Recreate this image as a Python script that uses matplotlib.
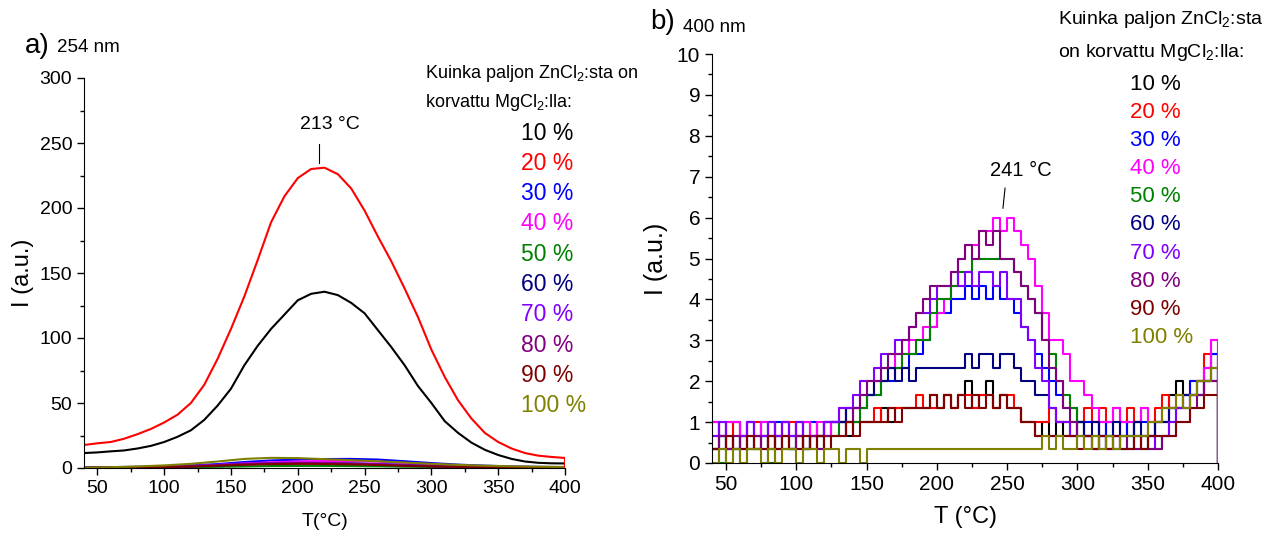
import numpy as np
import matplotlib
matplotlib.use("Agg")
import matplotlib.pyplot as plt
from matplotlib.ticker import MultipleLocator

plt.rcParams['font.family'] = ['Liberation Sans', 'DejaVu Sans']
plt.rcParams['mathtext.default'] = 'regular'

# sarjat: kuinka paljon ZnCl2 korvattu MgCl2:lla
labels = ['10 %', '20 %', '30 %', '40 %', '50 %', '60 %', '70 %', '80 %', '90 %', '100 %']
colors = ['#000000', '#FF0000', '#0000FF', '#FF00FF', '#008000',
          '#000080', '#8000FF', '#800080', '#800000', '#808000']

# --- a) 254 nm ---
T_a = [40, 50, 60, 70, 80, 90, 100, 110, 120, 130, 140, 150, 160, 170, 180, 190,
       200, 210, 220, 230, 240, 250, 260, 270, 280, 290, 300, 310, 320, 330, 340,
       350, 360, 370, 380, 390, 400, 400]
I_a_10 = [11.5, 12, 12.8, 13.5, 15, 17, 20, 24, 29, 37, 48, 61, 79, 94, 107, 118,
          129, 134, 135.6, 133, 127, 119, 106, 93, 79, 63, 50, 36, 27, 19.5, 14,
          10, 7, 5, 4, 3.6, 3.5, 0]
I_a_20 = [17.7, 19, 20, 22.5, 26, 30, 35, 41, 50, 64, 84, 107, 132, 160, 189, 209,
          223, 230, 231, 226, 215, 198, 178, 159, 138, 116, 91, 70, 52, 38, 27,
          20, 15, 11.5, 9.5, 8.5, 7.7, 0]

T_a_small = [40, 60, 80, 100, 120, 140, 160, 180, 200, 220, 240, 260, 280, 300,
             320, 340, 360, 380, 400]
I_a_30 = [0.5, 0.7, 0.9, 1.3, 2.0, 3.0, 4.6, 5.8, 6.4, 6.9, 7.0, 6.5, 5.2, 3.8, 2.6, 1.8, 1.2, 0.9, 0.7]
I_a_40 = [0.4, 0.5, 0.7, 1.0, 1.5, 2.4, 3.5, 4.4, 5.0, 5.4, 5.4, 4.8, 3.8, 2.8, 1.9, 1.3, 0.9, 0.7, 0.6]
I_a_50 = [0.1, 0.2, 0.3, 0.4, 0.6, 0.9, 1.2, 1.5, 1.6, 1.6, 1.5, 1.3, 1.0, 0.8, 0.6, 0.4, 0.3, 0.2, 0.2]
I_a_60 = [0.3, 0.4, 0.6, 0.9, 1.4, 2.0, 2.8, 3.3, 3.6, 3.7, 3.5, 3.0, 2.3, 1.6, 1.1, 0.7, 0.5, 0.4, 0.3]
I_a_70 = [0.2, 0.3, 0.5, 0.9, 1.5, 2.3, 3.2, 3.8, 4.0, 3.9, 3.5, 2.9, 2.2, 1.5, 1.0, 0.7, 0.5, 0.4, 0.3]
I_a_80 = [0.2, 0.3, 0.5, 0.8, 1.3, 2.2, 3.0, 3.6, 3.8, 3.7, 3.3, 2.7, 2.0, 1.4, 0.9, 0.6, 0.4, 0.3, 0.3]
I_a_90 = [0.1, 0.2, 0.4, 0.7, 1.1, 1.8, 2.5, 3.0, 3.2, 3.1, 2.8, 2.3, 1.7, 1.2, 0.8, 0.5, 0.4, 0.3, 0.2]
I_a_100 = [0.3, 0.6, 1.2, 2.0, 3.2, 5.0, 7.0, 7.8, 7.6, 6.8, 6.0, 5.2, 4.2, 3.2, 2.4, 1.8, 1.3, 1.0, 0.8]

# --- b) 400 nm, detektorin porras = 1/3 yksikkoa, arvot porraslukuina ---
T_b = list(range(40, 401, 5))
n_b_10 = [1, 2, 1, 2, 1, 2, 1, 2, 1, 2, 2, 1, 2, 1, 2, 2, 2, 3,
          3, 2, 3, 3, 3, 3, 4, 3, 4, 4, 4, 4, 4, 5, 4, 5, 4, 5, 6, 4, 5, 6, 4, 5, 4, 4,
          3, 3, 2, 3, 2, 3, 2, 2, 3, 2, 2, 3, 2, 2, 2, 3, 2, 2, 2, 3, 4, 5, 6, 5, 5, 6, 6, 8, 0]
n_b_20 = [2, 3, 2, 3, 2, 3, 3, 2, 3, 2, 3, 3, 2, 3, 3, 2, 3, 3,
          3, 3, 3, 3, 3, 4, 3, 4, 4, 4, 4, 5, 4, 4, 4, 5, 4, 5, 5, 4, 5, 5, 4, 5, 5, 4,
          3, 3, 3, 3, 4, 3, 3, 3, 3, 4, 3, 4, 3, 4, 3, 4, 3, 4, 3, 4, 5, 4, 5, 5, 6, 6, 8, 9, 0]
n_b_30 = [3, 2, 3, 3, 2, 3, 2, 3, 2, 3, 3, 2, 3, 2, 3, 2, 3, 3,
          3, 4, 4, 4, 5, 5, 6, 6, 7, 7, 8, 8, 9, 10, 11, 11, 12, 12, 13, 12, 13, 12, 13, 12, 12, 11,
          10, 9, 8, 7, 6, 5, 4, 4, 3, 3, 3, 2, 3, 2, 3, 2, 3, 3, 2, 3, 3, 4, 4, 5, 6, 6, 7, 8, 0]
n_b_40 = [3, 2, 3, 3, 2, 3, 2, 3, 3, 2, 3, 2, 3, 3, 2, 3, 2, 3,
          4, 3, 4, 4, 5, 6, 7, 7, 8, 8, 9, 9, 10, 10, 11, 12, 13, 15, 16, 16, 17, 17, 18, 17, 18, 17,
          16, 15, 13, 11, 9, 9, 8, 6, 6, 5, 4, 3, 3, 4, 3, 3, 3, 4, 3, 3, 3, 4, 4, 4, 5, 5, 7, 9, 0]
n_b_50 = [1, 0, 1, 1, 0, 1, 1, 1, 0, 1, 1, 1, 1, 1, 2, 1, 2, 2,
          3, 3, 3, 4, 5, 5, 6, 7, 7, 8, 8, 9, 9, 11, 12, 12, 13, 14, 14, 15, 15, 15, 15, 15, 15, 14,
          13, 12, 11, 9, 8, 6, 5, 4, 3, 2, 2, 1, 2, 1, 1, 2, 1, 1, 2, 1, 2, 3, 4, 4, 5, 5, 6, 6, 0]
n_b_60 = [1, 2, 1, 1, 2, 1, 1, 2, 1, 2, 1, 1, 2, 1, 2, 2, 3, 3,
          3, 4, 4, 5, 5, 6, 6, 7, 6, 7, 6, 7, 7, 7, 7, 7, 7, 7, 8, 7, 8, 8, 7, 8, 8, 7,
          6, 6, 5, 5, 4, 3, 3, 2, 3, 2, 3, 2, 2, 3, 2, 2, 3, 2, 2, 3, 3, 4, 4, 5, 5, 6, 6, 7, 0]
n_b_70 = [2, 3, 2, 1, 2, 3, 2, 2, 3, 2, 3, 2, 3, 1, 2, 2, 3, 3,
          4, 4, 5, 6, 6, 7, 8, 8, 9, 9, 10, 11, 11, 12, 13, 13, 14, 13, 14, 13, 14, 14, 13, 14, 12, 12,
          10, 9, 7, 6, 4, 3, 3, 2, 2, 2, 1, 2, 1, 2, 1, 1, 2, 1, 1, 2, 2, 3, 4, 4, 5, 5, 6, 6, 0]
n_b_80 = [1, 2, 1, 2, 1, 1, 2, 1, 2, 1, 2, 1, 2, 1, 2, 1, 2, 2,
          2, 3, 4, 5, 6, 6, 7, 8, 8, 9, 10, 11, 12, 13, 13, 13, 14, 15, 16, 15, 17, 16, 17, 15, 15, 14,
          13, 12, 11, 9, 7, 6, 4, 3, 2, 2, 1, 2, 1, 1, 2, 1, 1, 2, 1, 1, 2, 2, 3, 3, 4, 5, 6, 6, 0]
n_b_90 = [1, 1, 2, 1, 1, 2, 1, 1, 2, 1, 2, 1, 1, 2, 1, 2, 1, 2,
          2, 3, 2, 3, 3, 3, 3, 4, 3, 4, 4, 4, 4, 5, 4, 5, 4, 5, 4, 5, 4, 5, 4, 5, 4, 4,
          3, 3, 2, 2, 2, 2, 2, 2, 1, 2, 1, 2, 1, 2, 1, 1, 2, 1, 2, 2, 2, 2, 3, 3, 4, 4, 5, 5, 0]
n_b_100 = [0, 1, 0, 1, 0, 1, 1, 0, 1, 0, 1, 1, 0, 1, 1, 0, 1, 1,
           0, 1, 1, 0, 1, 1, 1, 1, 1, 1, 1, 1, 1, 1, 1, 1, 1, 1, 1, 1, 1, 1, 1, 1, 1, 1,
           1, 1, 1, 2, 1, 2, 1, 1, 2, 1, 2, 1, 2, 1, 2, 2, 2, 2, 3, 3, 4, 4, 5, 4, 5, 6, 6, 7, 0]
step_b = 1 / 3

W, H = 1287, 535
fig = plt.figure(figsize=(W / 100, H / 100), dpi=100)


def fx(x):
    return x / W


def fy(y):
    return 1 - y / H


def style_axes(ax, fs):
    for s in ['top', 'right']:
        ax.spines[s].set_visible(False)
    ax.tick_params(which='both', direction='out', labelsize=fs, width=1)
    ax.tick_params(which='major', length=5)
    ax.tick_params(which='minor', length=3)


# ---------- a) ----------
ax1 = fig.add_axes([fx(84), fy(468), fx(565 - 84), (468 - 78) / H])
a_small = [I_a_30, I_a_40, I_a_50, I_a_60, I_a_70, I_a_80, I_a_90, I_a_100]
for vals, c in zip(a_small, colors[2:]):
    ax1.plot(T_a_small, vals, color=c, lw=1.5)
ax1.plot(T_a, I_a_10, color=colors[0], lw=1.5)
ax1.plot(T_a, I_a_20, color=colors[1], lw=1.5)
ax1.set_xlim(40, 400)
ax1.set_ylim(0, 300)
ax1.xaxis.set_major_locator(MultipleLocator(50))
ax1.xaxis.set_minor_locator(MultipleLocator(25))
ax1.yaxis.set_major_locator(MultipleLocator(50))
ax1.yaxis.set_minor_locator(MultipleLocator(25))
style_axes(ax1, 14)
ax1.set_xlabel('T(°C)', fontsize=14, labelpad=12)
ax1.set_ylabel('I (a.u.)', fontsize=17, labelpad=4)
ax1.plot([216, 216], [235, 249], color='black', lw=0.8)
ax1.text(224, 264, '213 °C', fontsize=14, ha='center', va='center')

fig.text(fx(25), fy(46), 'a)', fontsize=20, ha='left', va='center')
fig.text(fx(57), fy(48), '254 nm', fontsize=13.5, ha='left', va='center')
fig.text(fx(425), fy(74), 'Kuinka paljon ZnCl$_2$:sta on', fontsize=13, ha='left', va='center')
fig.text(fx(425), fy(102), 'korvattu MgCl$_2$:lla:', fontsize=13, ha='left', va='center')
for k, (lab, c) in enumerate(zip(labels, colors)):
    fig.text(fx(521), fy(133 + k * 30.3), lab, color=c, fontsize=16.5, ha='left', va='center')

# ---------- b) ----------
ax2 = fig.add_axes([fx(712), fy(463), fx(1218 - 712), (463 - 54) / H])
b_series = [n_b_10, n_b_20, n_b_30, n_b_40, n_b_50, n_b_60, n_b_70, n_b_80, n_b_90, n_b_100]
for vals, c in zip(b_series, colors):
    ax2.plot(T_b, np.array(vals) * step_b, color=c, lw=1.5, drawstyle='steps-post')
ax2.set_xlim(40, 400)
ax2.set_ylim(0, 10)
ax2.xaxis.set_major_locator(MultipleLocator(50))
ax2.xaxis.set_minor_locator(MultipleLocator(25))
ax2.yaxis.set_major_locator(MultipleLocator(1))
ax2.yaxis.set_minor_locator(MultipleLocator(0.5))
style_axes(ax2, 15)
ax2.set_xlabel('T (°C)', fontsize=17, labelpad=9)
ax2.set_ylabel('I (a.u.)', fontsize=18, labelpad=6)
ax2.plot([247, 248.5], [6.23, 6.72], color='black', lw=0.8)
ax2.text(260, 7.16, '241 °C', fontsize=14.5, ha='center', va='center')

fig.text(fx(650), fy(22), 'b)', fontsize=20, ha='left', va='center')
fig.text(fx(683), fy(27), '400 nm', fontsize=13.5, ha='left', va='center')
fig.text(fx(1058), fy(20), 'Kuinka paljon ZnCl$_2$:sta', fontsize=14, ha='left', va='center')
fig.text(fx(1058), fy(52), 'on korvattu MgCl$_2$:lla:', fontsize=14, ha='left', va='center')
for k, (lab, c) in enumerate(zip(labels, colors)):
    fig.text(fx(1130), fy(84 + k * 28.2), lab, color=c, fontsize=16, ha='left', va='center')

fig.savefig('out.png', dpi=100)
